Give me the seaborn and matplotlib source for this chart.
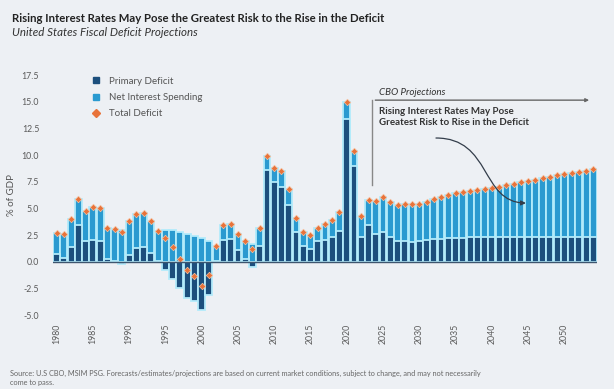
import numpy as np
import matplotlib
matplotlib.use("Agg")
import matplotlib.pyplot as plt
from matplotlib.lines import Line2D
from matplotlib.patches import FancyArrowPatch
from matplotlib.path import Path
import seaborn as sns

years = list(range(1980, 2055))

total_deficit = [2.7, 2.6, 4.0, 5.9, 4.8, 5.1, 5.0, 3.2, 3.1, 2.8,
                 3.8, 4.5, 4.6, 3.8, 2.9, 2.2, 1.4, 0.3, -0.8, -1.3,
                 -2.3, -1.2, 1.5, 3.4, 3.5, 2.6, 1.9, 1.2, 3.2, 9.9,
                 8.8, 8.5, 6.8, 4.1, 2.8, 2.5, 3.2, 3.5, 3.9, 4.7,
                 15.0, 10.4, 4.3, 5.8, 5.7, 6.1, 5.6, 5.3, 5.4, 5.4,
                 5.45, 5.6, 5.9, 6.1, 6.3, 6.4, 6.5, 6.6, 6.7, 6.85,
                 6.95, 7.05, 7.2, 7.3, 7.45, 7.6, 7.7, 7.85, 7.95, 8.1,
                 8.2, 8.35, 8.45, 8.55, 8.7]

primary_deficit = [0.7, 0.35, 1.35, 3.4, 1.95, 2.05, 1.9, 0.25, 0.1, -0.2,
                   0.65, 1.3, 1.4, 0.85, 0.05, -0.8, -1.6, -2.5, -3.4, -3.7,
                   -4.5, -3.1, 0.05, 2.0, 2.1, 1.1, 0.3, -0.45, 1.5, 8.6,
                   7.5, 7.0, 5.35, 2.75, 1.5, 1.2, 1.9, 2.05, 2.3, 2.9,
                   13.35, 8.95, 2.35, 3.4, 2.6, 2.8, 2.3, 1.9, 1.9, 1.85,
                   1.95, 2.0, 2.1, 2.15, 2.2, 2.25, 2.25, 2.3, 2.3, 2.3,
                   2.3, 2.3, 2.3, 2.3, 2.3, 2.3, 2.3, 2.3, 2.3, 2.3,
                   2.3, 2.3, 2.3, 2.3, 2.3]

net_interest = [2.0, 2.25, 2.65, 2.5, 2.85, 3.05, 3.1, 2.95, 3.0, 3.0,
                3.15, 3.2, 3.2, 2.95, 2.85, 3.0, 3.0, 2.8, 2.6, 2.4,
                2.2, 1.9, 1.45, 1.4, 1.4, 1.5, 1.6, 1.65, 1.7, 1.3,
                1.3, 1.5, 1.45, 1.35, 1.3, 1.3, 1.3, 1.45, 1.6, 1.8,
                1.65, 1.45, 1.95, 2.4, 3.1, 3.3, 3.3, 3.4, 3.5, 3.55,
                3.5, 3.6, 3.8, 3.95, 4.1, 4.15, 4.25, 4.3, 4.4, 4.55,
                4.65, 4.75, 4.9, 5.0, 5.15, 5.3, 5.4, 5.55, 5.65, 5.8,
                5.9, 6.05, 6.15, 6.25, 6.4]

dark = "#1c4f7d"
light = "#2a9ad0"
rim = "#b3ebfb"
orange = "#e8733a"
bg = "#edf0f4"

# stacked: interest sits on top of positive primary, starts at 0 otherwise
interest_top = np.maximum(np.array(primary_deficit), 0) + np.array(net_interest)

plt.rcParams["font.family"] = ["Lato", "DejaVu Sans"]
fig = plt.figure(figsize=(6.14, 3.89), dpi=100, facecolor=bg)
ax = fig.add_axes([0.0863, 0.19, 0.886, 0.617])
ax.set_facecolor(bg)

sns.barplot(x=years, y=interest_top, native_scale=True, color=light, saturation=1,
            width=0.95, edgecolor=rim, linewidth=1.3, errorbar=None, ax=ax)
sns.barplot(x=years, y=primary_deficit, native_scale=True, color=dark, saturation=1,
            width=0.95, edgecolor=rim, linewidth=1.3, errorbar=None, ax=ax)
sns.scatterplot(x=years, y=total_deficit, marker="D", color=orange, s=11,
                edgecolor="#f5c2a2", linewidth=0.5, zorder=5, ax=ax)

ax.axhline(0, color="#3e566f", lw=1.0, zorder=6)
ax.set_xlim(1979.5, 2054.5)
ax.set_ylim(-5.0, 17.5)
ax.set_yticks(np.arange(-5, 17.6, 2.5))
ax.set_yticklabels([f"{v:.1f}" for v in np.arange(-5, 17.6, 2.5)])
ax.set_xticks(range(1980, 2051, 5))
ax.set_xticklabels([str(y) for y in range(1980, 2051, 5)], rotation=90)
ax.tick_params(axis="both", length=0, labelsize=6.3, labelcolor="#5a5a5a")
ax.tick_params(axis="x", pad=6)
ax.tick_params(axis="y", pad=10)
for s in ax.spines.values():
    s.set_visible(False)
ax.set_xlabel("")
ax.set_ylabel("% of GDP", fontsize=7, color="#555555", labelpad=4)

# CBO projection marker
ax.plot([2023.55, 2023.55], [7.15, 15.15], color="#888888", lw=1.0, clip_on=False)
ax.annotate("", xy=(2053.8, 15.15), xytext=(2023.55, 15.15),
            arrowprops=dict(arrowstyle="-|>", color="#666666", lw=1.0, mutation_scale=5),
            annotation_clip=False)
ax.text(2024.4, 15.45, "CBO Projections", fontsize=7, style="italic", color="#333333",
        va="bottom", ha="left")
ax.text(2024.4, 14.5, "Rising Interest Rates May Pose\nGreatest Risk to Rise in the Deficit",
        fontsize=7, fontweight="bold", color="#333333", va="top", ha="left", linespacing=1.3)

curve = Path([(2032.3, 11.6), (2040.0, 11.6), (2038.4, 5.6), (2044.7, 5.5)],
             [Path.MOVETO, Path.CURVE4, Path.CURVE4, Path.CURVE4])
ax.add_patch(FancyArrowPatch(path=curve, arrowstyle="-|>", mutation_scale=7,
                             color="#333d4a", lw=0.9, zorder=7))

handles = [Line2D([], [], marker="s", ls="", color=dark, ms=5),
           Line2D([], [], marker="s", ls="", color=light, ms=5),
           Line2D([], [], marker="D", ls="", color=orange, ms=4.5)]
ax.legend(handles, ["Primary Deficit", "Net Interest Spending", "Total Deficit"],
          loc="upper left", bbox_to_anchor=(78 / 614, 1 - 68 / 389),
          bbox_transform=fig.transFigure, frameon=False, fontsize=7,
          handletextpad=0.3, labelspacing=0.75, labelcolor="#555555")

fig.text(12 / 614, 1 - 18 / 389,
         "Rising Interest Rates May Pose the Greatest Risk to the Rise in the Deficit",
         fontsize=8.2, fontweight="bold", color="#222222", va="center", ha="left")
fig.text(12 / 614, 1 - 33 / 389, "United States Fiscal Deficit Projections",
         fontsize=8.3, style="italic", color="#333333", va="center", ha="left")
fig.text(10 / 614, 1 - 378 / 389,
         "Source: U.S CBO, MSIM PSG. Forecasts/estimates/projections are based on current market conditions, subject to change, and may not necessarily\ncome to pass.",
         fontsize=5.3, color="#666666", va="center", ha="left", linespacing=1.45)

fig.savefig("out.png", dpi=100, facecolor=bg)
